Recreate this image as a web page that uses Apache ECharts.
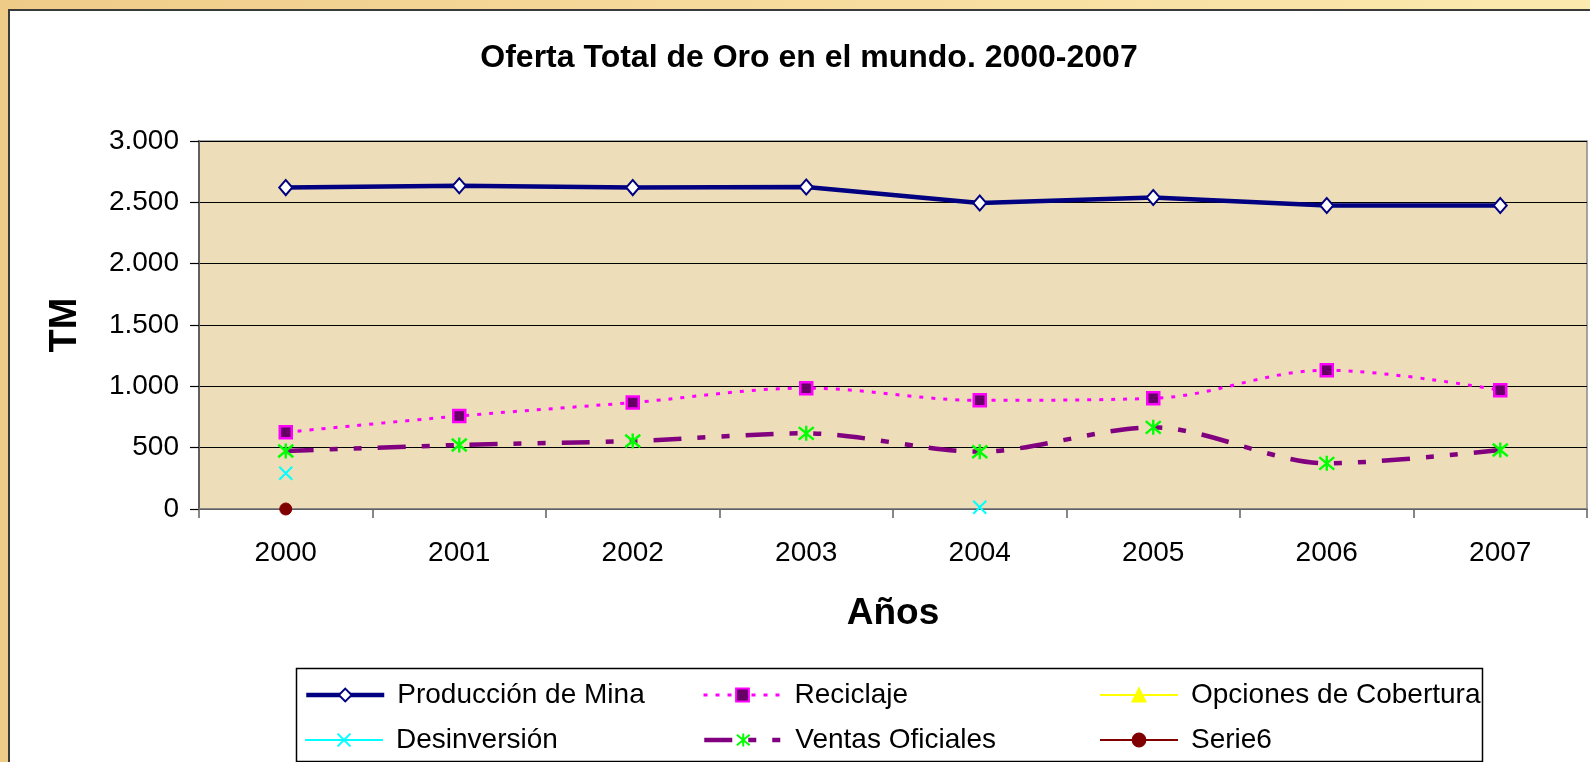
<!DOCTYPE html>
<html>
<head>
<meta charset="utf-8">
<script src="https://cdn.jsdelivr.net/npm/echarts@6/dist/echarts.min.js"></script>
<style>
html,body{margin:0;padding:0;background:#F3D595;}
#bg{position:absolute;left:0;top:0;width:1590px;height:762px;background:linear-gradient(90deg,#EFCB88 0%,#F6DA9C 45%,#FCE9AE 100%);}
#panel{position:absolute;left:8px;top:9px;width:1590px;height:770px;background:#fff;border:2px solid #3a3a3a;box-sizing:border-box;}
#chart{position:absolute;left:0;top:0;width:1590px;height:762px;}
</style>
</head>
<body>
<div id="bg"></div>
<div id="panel"></div>
<div id="chart"></div>
<script>
const years = ['2000','2001','2002','2003','2004','2005','2006','2007'];
const produccion = [2620, 2635, 2620, 2625, 2495, 2540, 2475, 2475];
const reciclaje = [625, 758, 868, 985, 886, 902, 1131, 968];
const opciones = [null, null, null, null, null, null, null, null];
const desinversion = [291, null, null, null, 14, null, null, null];
const ventas = [473, 522, 554, 617, 467, 666, 372, 481];
const serie6 = [0, null, null, null, null, null, null, null];
const yTicks = [0, 500, 1000, 1500, 2000, 2500, 3000];

const chart = echarts.init(document.getElementById('chart'), null, {renderer:'canvas'});
const FONT = 'Liberation Sans, Arial, sans-serif';
const star = 'path://M0,0L10,10M10,0L0,10M5,-1L5,11';
const cross = 'path://M0,0L10,10M10,0L0,10';

function fmt(v){ return String(v).replace(/\B(?=(\d{3})+(?!\d))/g, '.'); }

function legendAt(name, left, top){
  return {
    data:[name], left:left, top:top, orient:'horizontal',
    itemWidth:78, itemHeight:16, padding:0,
    lineStyle:{width:'inherit'},
    textStyle:{fontFamily:FONT, fontSize:28, color:'#000', padding:[0,0,0,8]}
  };
}

chart.setOption({
  animation:false,
  backgroundColor:'transparent',
  title:{
    text:'Oferta Total de Oro en el mundo. 2000-2007',
    left:804, top:37, textAlign:'center',
    textStyle:{fontFamily:FONT, fontWeight:'bold', fontSize:32, color:'#000'}
  },
  grid:{left:199, top:141, right:3, bottom:253, show:true,
        backgroundColor:'#EEDDB9', borderColor:'#8a8a8a', borderWidth:1.5},
  legend:[
    legendAt('Producción de Mina', 304, 681),
    legendAt('Reciclaje', 702, 681),
    legendAt('Opciones de Cobertura', 1099, 681),
    legendAt('Desinversión', 304, 726),
    legendAt('Ventas Oficiales', 702, 726),
    legendAt('Serie6', 1099, 726)
  ],
  graphic:[
    {type:'rect', shape:{x:296.5, y:668.5, width:1186, height:93},
     style:{fill:'none', stroke:'#000', lineWidth:1.5}, z:-1}
  ],
  xAxis:{
    type:'category', data:years, boundaryGap:true,
    name:'Años', nameLocation:'middle', nameGap:86,
    nameTextStyle:{fontFamily:FONT, fontWeight:'bold', fontSize:37, color:'#000'},
    axisLine:{lineStyle:{color:'#808080', width:1.5}},
    axisTick:{show:true, length:9, alignWithLabel:false, lineStyle:{color:'#606060', width:1.5}},
    axisLabel:{fontFamily:FONT, fontSize:28, color:'#000', margin:30},
    splitLine:{show:false}
  },
  yAxis:{
    type:'value', min:0, max:3000, interval:500,
    name:'TM', nameLocation:'middle', nameGap:114, nameRotate:90,
    nameTextStyle:{fontFamily:FONT, fontWeight:'bold', fontSize:38, color:'#000'},
    axisLine:{show:true, lineStyle:{color:'#606060', width:2}},
    axisTick:{show:true, length:9, lineStyle:{color:'#000', width:1.2}},
    axisLabel:{fontFamily:FONT, fontSize:28, color:'#000', margin:20,
               formatter:function(v){ return yTicks.indexOf(v) >= 0 ? fmt(v) : ''; }},
    splitLine:{show:true, lineStyle:{color:'#000', width:1.2}}
  },
  series:[
    {name:'Producción de Mina', type:'line', data:produccion, z:5,
     symbol:'diamond', symbolSize:[13,15], showSymbol:true,
     lineStyle:{color:'#000080', width:4.5},
     itemStyle:{color:'#ffffff', borderColor:'#000080', borderWidth:2}},
    {name:'Reciclaje', type:'line', data:reciclaje, smooth:0.35, z:4,
     symbol:'rect', symbolSize:12,
     lineStyle:{color:'#FF00FF', width:3, type:[4,8]},
     itemStyle:{color:'#660066', borderColor:'#FF00FF', borderWidth:2.5}},
    {name:'Opciones de Cobertura', type:'line', data:opciones, z:3,
     symbol:'triangle', symbolSize:14,
     lineStyle:{color:'#FFFF00', width:2},
     itemStyle:{color:'#FFFF00', borderColor:'#FFFF00', borderWidth:1}},
    {name:'Desinversión', type:'line', data:desinversion, connectNulls:false, z:3,
     symbol:cross, symbolSize:13,
     lineStyle:{color:'#00FFFF', width:2},
     itemStyle:{color:'#00FFFF', borderColor:'#00FFFF', borderWidth:2}},
    {name:'Ventas Oficiales', type:'line', data:ventas, smooth:0.3, z:4,
     symbol:star, symbolSize:15,
     lineStyle:{color:'#800080', width:4.5, type:[28,16,8,16,8,16]},
     itemStyle:{color:'#00FF00', borderColor:'#00FF00', borderWidth:2.4}},
    {name:'Serie6', type:'line', data:serie6, z:6,
     symbol:'circle', symbolSize:12, clip:false,
     lineStyle:{color:'#800000', width:2},
     itemStyle:{color:'#800000', borderColor:'#800000', borderWidth:1}}
  ]
});
</script>
</body>
</html>
